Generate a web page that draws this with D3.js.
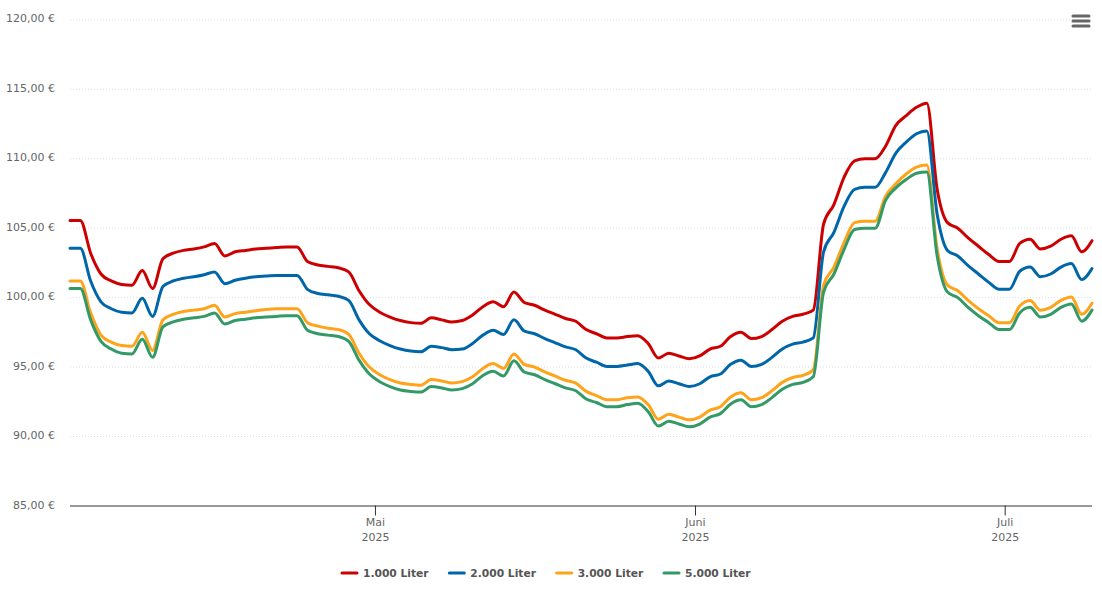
<!DOCTYPE html>
<html lang="de">
<head>
    <meta charset="UTF-8">
    <title>Heizölpreise</title>
    <script src="https://d3js.org/d3.v7.min.js"></script>
    <style>
        html, body { margin: 0; padding: 0; background: #fff; }
        svg { display: block; font-family: "DejaVu Sans", sans-serif; }
    </style>
</head>
<body>
    <svg id="chart" width="1102" height="601"></svg>
<script>
    // one value per day, starting April 1st
    let liter1000 = [105.55,105.55,103.2,101.7,101.2,100.95,100.9,101.95,100.65,102.8,
        103.2,103.4,103.5,103.65,103.9,103.0,103.3,103.4,103.5,103.55,
        103.6,103.65,103.65,102.6,102.35,102.25,102.15,101.85,100.5,99.5,
        98.95,98.6,98.35,98.2,98.15,98.55,98.4,98.25,98.35,98.75,
        99.35,99.7,99.35,100.4,99.65,99.45,99.1,98.8,98.5,98.3,
        97.7,97.4,97.1,97.1,97.2,97.25,96.7,95.65,96.0,95.8,
        95.6,95.8,96.3,96.5,97.2,97.5,97.05,97.2,97.7,98.3,
        98.65,98.8,99.1,105.3,106.7,108.7,109.85,110.0,110.0,110.9,
        112.4,113.1,113.7,114.0,107.8,105.4,105.0,104.3,103.7,103.1,
        102.6,102.6,103.9,104.2,103.5,103.7,104.2,104.45,103.3,104.1]
    let liter2000 = [103.55,103.55,101.2,99.7,99.2,98.95,98.9,99.95,98.65,100.8,
        101.2,101.4,101.5,101.65,101.85,101.0,101.25,101.4,101.5,101.55,
        101.6,101.6,101.6,100.6,100.3,100.2,100.1,99.8,98.4,97.4,
        96.9,96.55,96.3,96.15,96.1,96.5,96.4,96.25,96.3,96.7,
        97.3,97.65,97.35,98.4,97.6,97.4,97.05,96.75,96.45,96.25,
        95.65,95.35,95.05,95.05,95.15,95.25,94.7,93.65,94.0,93.8,
        93.6,93.8,94.3,94.5,95.2,95.5,95.05,95.2,95.7,96.3,
        96.65,96.8,97.1,103.3,104.7,106.6,107.8,107.95,107.95,109.0,
        110.4,111.2,111.8,112.0,106.0,103.4,103.0,102.3,101.7,101.1,
        100.6,100.6,101.9,102.2,101.5,101.7,102.2,102.45,101.3,102.1]
    let liter3000 = [101.2,101.2,98.9,97.3,96.8,96.55,96.5,97.5,96.2,98.4,
        98.8,99.0,99.1,99.2,99.45,98.6,98.85,98.95,99.05,99.15,
        99.2,99.2,99.2,98.2,97.95,97.8,97.7,97.35,96.0,95.0,
        94.45,94.1,93.85,93.75,93.7,94.1,94.0,93.85,93.95,94.3,
        94.9,95.25,94.9,95.95,95.2,95.0,94.65,94.35,94.05,93.85,
        93.25,92.95,92.65,92.65,92.8,92.85,92.3,91.25,91.6,91.4,
        91.2,91.4,91.9,92.15,92.85,93.15,92.65,92.8,93.3,93.9,
        94.25,94.4,94.8,100.9,102.2,104.0,105.4,105.5,105.5,107.3,
        108.2,108.9,109.4,109.55,103.5,100.9,100.5,99.8,99.2,98.7,
        98.2,98.2,99.4,99.8,99.1,99.3,99.8,100.05,98.8,99.6]
    let liter5000 = [100.65,100.65,98.4,96.85,96.3,96.0,95.95,97.0,95.7,97.9,
        98.25,98.45,98.55,98.65,98.9,98.1,98.35,98.45,98.55,98.6,
        98.65,98.7,98.7,97.65,97.4,97.3,97.2,96.85,95.5,94.5,
        93.95,93.6,93.35,93.25,93.2,93.6,93.5,93.35,93.45,93.8,
        94.4,94.7,94.35,95.45,94.65,94.45,94.1,93.8,93.5,93.3,
        92.7,92.45,92.15,92.15,92.3,92.4,91.8,90.75,91.1,90.9,
        90.7,90.9,91.4,91.65,92.35,92.65,92.15,92.3,92.8,93.4,
        93.75,93.9,94.3,100.4,101.7,103.5,104.9,105.0,105.0,107.0,
        107.9,108.5,108.95,109.05,103.0,100.4,100.0,99.3,98.7,98.2,
        97.7,97.7,98.9,99.3,98.6,98.8,99.3,99.55,98.3,99.1]

    let seriesNames = ['1.000 Liter', '2.000 Liter', '3.000 Liter', '5.000 Liter']
    let seriesValues = [liter1000, liter2000, liter3000, liter5000]
    let colors = ['#cc0000', '#0066aa', '#ffa31a', '#339966']

    let yTicks = [85, 90, 95, 100, 105, 110, 115, 120]
    let xTicks = [new Date(Date.UTC(2025, 4, 1)), new Date(Date.UTC(2025, 5, 1)), new Date(Date.UTC(2025, 6, 1))]
    let xTickMonths = ['Mai', 'Juni', 'Juli']
    let firstDay = new Date(Date.UTC(2025, 3, 1, 11))
    // utcDay.range would snap to midnight, the points sit at 11:00
    let days = liter1000.map((d, i) => d3.utcDay.offset(firstDay, i))

    let plotLeft = 70, plotRight = 1092, plotTop = 19.8, plotBottom = 506

    let x = d3.scaleUtc().domain([days[0], days[days.length - 1]]).range([plotLeft, plotRight])
    let y = d3.scaleLinear().domain([85, 120]).range([plotBottom, plotTop])

    let svg = d3.select('#chart')

    // y axis with dotted grid lines
    let yAxis = svg.append('g')
        .attr('transform', `translate(${plotLeft},0)`)
        .call(d3.axisLeft(y)
            .tickValues(yTicks)
            .offset(0)
            .tickSize(-(plotRight - plotLeft))
            .tickPadding(15)
            .tickFormat(d => d3.format('.2f')(d).replace('.', ',') + ' €'))
    yAxis.select('.domain').remove()
    yAxis.selectAll('line').attr('stroke', '#dedede').attr('stroke-dasharray', '1,2')
    yAxis.selectAll('text').attr('fill', '#666').attr('font-size', 11).attr('font-family', '"DejaVu Sans"').attr('y', -1)
    yAxis.selectAll('.tick').filter(d => d === 85).select('line').remove()

    // x axis, month and year on two lines
    let xAxis = svg.append('g')
        .attr('transform', `translate(0,${plotBottom - 0.5})`)
        .call(d3.axisBottom(x).tickValues(xTicks).tickSize(10).tickFormat(''))
    xAxis.select('.domain').attr('stroke', '#333').attr('d', `M${plotLeft},0.5H${plotRight}`)
    xAxis.selectAll('line').attr('stroke', '#333')
    xAxis.selectAll('.tick').each(function (d, i) {
        let t = d3.select(this).select('text').attr('fill', '#666').attr('font-size', 11)
            .attr('font-family', '"DejaVu Sans"').attr('y', 17).attr('dy', 3)
        t.append('tspan').attr('x', 0).text(xTickMonths[i])
        t.append('tspan').attr('x', 0).attr('dy', 15).text('2025')
    })

    // price lines
    let line = d3.line()
        .x((d, i) => x(days[i]))
        .y(d => y(d))
        .curve(d3.curveMonotoneX)

    svg.append('g').selectAll('path')
        .data(seriesValues)
        .join('path')
        .attr('fill', 'none')
        .attr('stroke', (d, i) => colors[i])
        .attr('stroke-width', 3)
        .attr('stroke-linejoin', 'round')
        .attr('stroke-linecap', 'round')
        .attr('d', line)

    // legend
    let legendX = d3.scalePoint().domain(seriesNames).range([342, 664])
    let legend = svg.append('g').selectAll('g')
        .data(seriesNames)
        .join('g')
        .attr('transform', d => `translate(${legendX(d)},573)`)
    legend.append('line')
        .attr('x1', 0).attr('x2', 15)
        .attr('stroke', (d, i) => colors[i])
        .attr('stroke-width', 3)
        .attr('stroke-linecap', 'round')
    legend.append('text')
        .attr('x', 21).attr('dy', 4)
        .attr('fill', '#555')
        .attr('font-size', 10.7)
        .attr('font-weight', 'bold')
        .text(d => d)

    // export menu button
    svg.append('g').selectAll('line')
        .data([16, 21, 26])
        .join('line')
        .attr('x1', 1073).attr('x2', 1089)
        .attr('y1', d => d).attr('y2', d => d)
        .attr('stroke', '#666')
        .attr('stroke-width', 3)
        .attr('stroke-linecap', 'round')
</script>
</body>
</html>
